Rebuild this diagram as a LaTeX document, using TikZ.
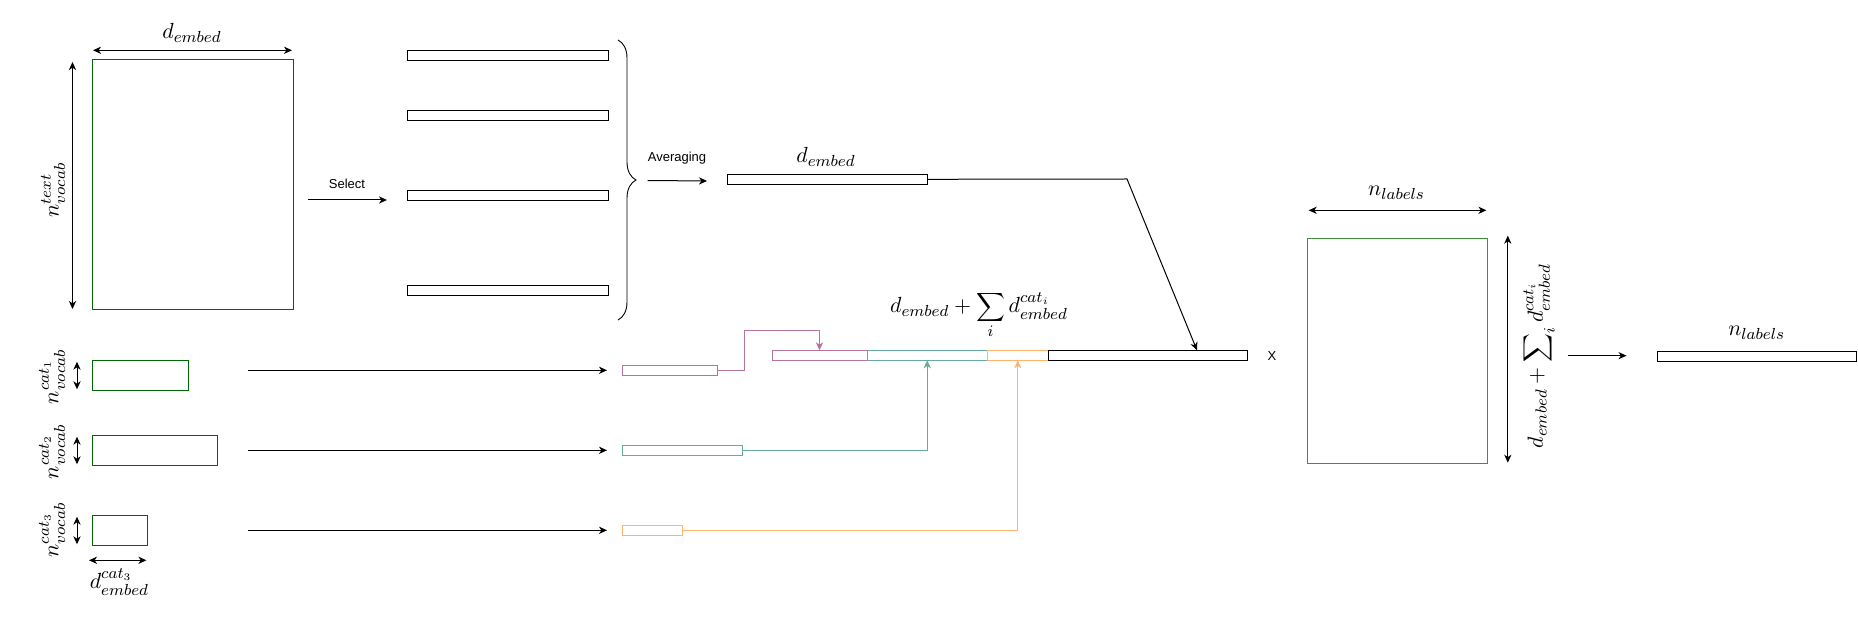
\documentclass[tikz,border=0pt]{standalone}
\usepackage{fontspec}
\newfontfamily\labelsans{Liberation Sans}
\usetikzlibrary{arrows.meta,decorations.pathreplacing}
\definecolor{mgreen}{HTML}{006600}
\definecolor{rgreen}{HTML}{3F8F3F}
\definecolor{cpink}{HTML}{B5739D}
\definecolor{cteal}{HTML}{67AB9F}
\definecolor{corange}{HTML}{FFB570}
\begin{document}
\begin{tikzpicture}[x=0.5pt,y=-0.5pt,
  box/.style={draw, line width=0.5pt, inner sep=0pt, outer sep=0pt},
  matbox/.style={box, draw=mgreen},
  bar/.style={box, minimum height=5pt},
  conn/.style={line width=0.5pt, -{Stealth[length=4pt,width=3.6pt,inset=1.2pt]}},
  dimarrow/.style={line width=0.5pt, {Stealth[length=4pt,width=3.6pt,inset=1.2pt]}-{Stealth[length=4pt,width=3.6pt,inset=1.2pt]}},
  mathlbl/.style={font=\fontsize{11}{13}\selectfont, inner sep=0pt},
  sanslbl/.style={font=\labelsans\fontsize{6.5}{8}\selectfont, inner sep=0pt},
]
\useasboundingbox (0,0) rectangle (1858,641);

% matrices and bars
\node[matbox, minimum width=100.5pt, minimum height=125pt] (M) at (192.5,185) {};
\foreach \n/\y in {1/55.3,2/115.3,3/195.3,4/290.3}
  \node[bar, minimum width=100.5pt] (B\n) at (507.5,\y) {};
\node[bar, minimum width=100pt] (A) at (827.5,179.3) {};

\node[matbox, minimum width=48pt, minimum height=15pt] (C1) at (140,375.3) {};
\node[matbox, minimum width=62.85pt, minimum height=15pt] (C2) at (154.85,450.3) {};
\node[matbox, minimum width=27.8pt, minimum height=15pt] (C3) at (119.8,530.3) {};

\node[bar, draw=cpink, minimum width=47.5pt] (P) at (669.5,370.3) {};
\node[bar, draw=cteal, minimum width=60.2pt] (T) at (682.2,450.3) {};
\node[bar, draw=corange, minimum width=30.3pt] (O) at (652.3,530.3) {};

\node[bar, draw=cpink, minimum width=47.5pt] (S1) at (819.5,355.3) {};
\node[bar, draw=cteal, minimum width=60.25pt] (S2) at (927.25,355.3) {};
\node[bar, draw=corange, minimum width=30.25pt] (S3) at (1017.75,355.3) {};
\node[bar, minimum width=99.5pt] (S4) at (1147.5,355.3) {};

\node[box, draw=rgreen, minimum width=90.1pt, minimum height=112.5pt] (R) at (1397.4,351.5) {};
\node[bar, minimum width=99.6pt] (Y) at (1756.8,356.7) {};

% labels
\node[mathlbl] (lM) at (192,33) {$d_{embed}$};
\node[mathlbl, rotate=90] (lMv) at (53,190) {$n_{vocab}^{text}$};
\node[sanslbl] (lsel) at (347,184) {Select};
\node[sanslbl] (lavg) at (677,158) {Averaging};
\node[mathlbl] (lA) at (826,157) {$d_{embed}$};
\node[mathlbl] (lS) at (979,315) {$d_{embed}+\displaystyle\sum_i d_{embed}^{cat_i}$};
\node[sanslbl] (lX) at (1272,356) {X};
\node[mathlbl] (lR) at (1396.5,193) {$n_{labels}$};
\node[mathlbl, rotate=90] (lRv) at (1538,356) {$d_{embed}+\displaystyle\sum\nolimits_i d_{embed}^{cat_i}$};
\node[mathlbl] (lY) at (1756.6,333) {$n_{labels}$};
\node[mathlbl, rotate=90] (lC1) at (52,376.7) {$n_{vocab}^{cat_1}$};
\node[mathlbl, rotate=90] (lC2) at (52,451.7) {$n_{vocab}^{cat_2}$};
\node[mathlbl, rotate=90] (lC3) at (52,530) {$n_{vocab}^{cat_3}$};
\node[mathlbl] (lC3w) at (119.4,582) {$d_{embed}^{cat_3}$};

% coordinates for free ends
\coordinate (mt1) at (93,50.3);   \coordinate (mt2) at (292,50.3);
\coordinate (mv1) at (72.5,62);   \coordinate (mv2) at (72.5,309);
\coordinate (se1) at (308,200);   \coordinate (se2) at (387,200);
\coordinate (av1) at (647.5,180.5); \coordinate (av2) at (707,181);
\coordinate (bend) at (1127,179);
\coordinate (ca1) at (247.5,370.3);
\coordinate (ca2) at (247.5,450.3);
\coordinate (ca3) at (247.5,530.3);
\coordinate (cv1a) at (77,361.7); \coordinate (cv1b) at (77,389.3);
\coordinate (cv2a) at (77,436.7); \coordinate (cv2b) at (77,464.3);
\coordinate (cv3a) at (77,516.7); \coordinate (cv3b) at (77,544.3);
\coordinate (cw1) at (89,560.3);  \coordinate (cw2) at (146.4,560.3);
\coordinate (rt1) at (1308.7,210.3); \coordinate (rt2) at (1486.4,210.3);
\coordinate (rv1) at (1507.8,235.7); \coordinate (rv2) at (1507.8,462.7);
\coordinate (out1) at (1567.5,355.7); \coordinate (out2) at (1626.5,355.7);
\coordinate (br1) at (618,40);    \coordinate (br2) at (618,320);

% connectors
\draw[dimarrow] (mt1) -- (mt2);
\draw[dimarrow] (mv1) -- (mv2);
\draw[conn] (se1) -- (se2);
\draw[decorate, decoration={brace, amplitude=9pt}, line width=0.45pt] (br1) -- (br2);
\draw[conn] (av1) -- (av2);
\draw[conn] (A.east) -- (bend) -- ([xshift=24.75pt]S4.north);

\draw[conn, shorten >=7.5pt] (ca1) -- (P.west);
\draw[conn, shorten >=7.5pt] (ca2) -- (T.west);
\draw[conn, shorten >=7.5pt] (ca3) -- (O.west);

\draw[conn, color=cpink] (P.east) -- ++(27,0) |- ([yshift=10pt]S1.north) -- (S1.north);
\draw[conn, color=cteal] (T.east) -| (S2.south);
\draw[conn, color=corange] (O.east) -| (S3.south);

\draw[dimarrow] (cv1a) -- (cv1b);
\draw[dimarrow] (cv2a) -- (cv2b);
\draw[dimarrow] (cv3a) -- (cv3b);
\draw[dimarrow] (cw1) -- (cw2);

\draw[dimarrow] (rt1) -- (rt2);
\draw[dimarrow] (rv1) -- (rv2);
\draw[conn] (out1) -- (out2);
\end{tikzpicture}
\end{document}
